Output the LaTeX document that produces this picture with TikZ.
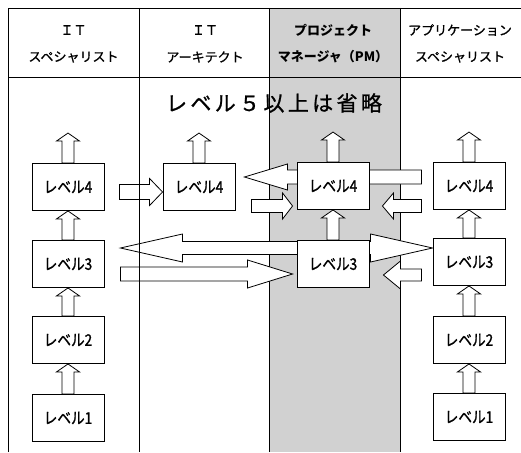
\documentclass[tikz,border=0pt]{standalone}
\usepackage{fontspec}
\setmainfont{Noto Sans CJK JP}
\newfontfamily\boxfont[FakeStretch=0.85,FakeBold=1.2]{Noto Sans CJK JP}
\newfontfamily\hdfont[FakeBold=1]{Noto Sans CJK JP}
\usepackage{tikz}
\usetikzlibrary{calc}
\usetikzlibrary{backgrounds}

% block arrow: tail, tip, half shaft, half head, head length
\newcommand{\blockarrow}[5]{%
	\coordinate (ba-a) at #1;
	\coordinate (ba-b) at #2;
	\coordinate (ba-h) at ($(ba-b)!#5!(ba-a)$);
	\draw[barrow] ($(ba-a)!#3!90:(ba-b)$) -- ($(ba-h)!#3!-90:(ba-a)$) -- ($(ba-h)!#4!-90:(ba-a)$) -- (ba-b)
	-- ($(ba-h)!#4!90:(ba-a)$) -- ($(ba-h)!#3!90:(ba-a)$) -- ($(ba-a)!#3!-90:(ba-b)$) -- cycle;
}

\begin{document}
\begin{tikzpicture}[x=1pt,y=-1pt,
	lvbox/.style={draw,fill=white,line width=0.9pt,minimum width=72pt,minimum height=47pt,font=\boxfont\fontsize{16}{16}\selectfont},
	barrow/.style={draw,fill=white,line width=0.8pt,line join=miter},
	grid/.style={line width=0.9pt},
	hd/.style={font=\hdfont\fontsize{13}{13}\selectfont}]
	\useasboundingbox (0,0) rectangle (521,452);
	% shaded PM column
	\begin{scope}[on background layer]
		\fill[black!18] (269,8) rectangle (400,452);
		\draw[grid] (269,8) -- (269,452);
		\draw[grid] (400,8) -- (400,452);
	\end{scope}
	\draw[grid] (8,452) -- (8,8) -- (521,8);
	\draw[grid] (8,77) -- (521,77);
	\draw[grid] (139,8) -- (139,452);
	% headers
	\node[hd] (hd1a) at (73.5,30) {ＩＴ};
	\node[hd] (hd1b) at (73.5,57) {スペシャリスト};
	\node[hd] (hd2a) at (205,30) {ＩＴ};
	\node[hd] (hd2b) at (205,57) {アーキテクト};
	\node[hd,font=\bfseries\fontsize{13}{13}\selectfont] (hd3a) at (333,30) {プロジェクト};
	\node[hd,font=\bfseries\fontsize{13}{13}\selectfont] (hd3b) at (333,57) {マネージャ（PM）};
	\node[hd] (hd4a) at (460,30) {アプリケーション};
	\node[hd] (hd4b) at (460,57) {スペシャリスト};
	\node[font=\hdfont\addfontfeature{LetterSpace=16}\fontsize{21}{21}\selectfont] (omit) at (274,103) {レベル５以上は省略};
	% level boxes
	\node[lvbox] (c1l4) at (68,187) {レベル4};
	\node[lvbox] (c1l3) at (68,264) {レベル3};
	\node[lvbox] (c1l2) at (68,340) {レベル2};
	\node[lvbox] (c1l1) at (68,418) {レベル1};
	\node[lvbox] (c2l4) at (199,187) {レベル4};
	\node[lvbox] (pml4) at (333,186) {レベル4};
	\node[lvbox] (pml3) at (333,264) {レベル3};
	\node[lvbox] (c4l4) at (469,186) {レベル4};
	\node[lvbox] (c4l3) at (469,262) {レベル3};
	\node[lvbox] (c4l2) at (469,340) {レベル2};
	\node[lvbox] (c4l1) at (469,417) {レベル1};
	\coordinate (c1top) at ([yshift=30pt]c1l4.north);
	\coordinate (c2top) at ([yshift=30pt]c2l4.north);
	\coordinate (pmtop) at ([yshift=30pt]pml4.north);
	\coordinate (c4top) at ([yshift=30pt]c4l4.north);
	% arrows
	\begin{scope}[on background layer]
		\blockarrow{(c1l1.north)}{(c1l2.south)}{6pt}{11.5pt}{8pt}
		\blockarrow{(c1l2.north)}{(c1l3.south)}{6pt}{11.5pt}{8pt}
		\blockarrow{(c1l3.north)}{(c1l4.south)}{6pt}{11.5pt}{8pt}
		\blockarrow{(c1l4.north)}{(c1top)}{6pt}{11.5pt}{8pt}
		\blockarrow{(c2l4.north)}{(c2top)}{6pt}{11.5pt}{8pt}
		\blockarrow{(pml3.north)}{(pml4.south)}{6pt}{11.5pt}{8pt}
		\blockarrow{(pml4.north)}{(pmtop)}{6pt}{11.5pt}{8pt}
		\blockarrow{(c4l1.north)}{(c4l2.south)}{6pt}{11.5pt}{8pt}
		\blockarrow{(c4l2.north)}{(c4l3.south)}{6pt}{11.5pt}{8pt}
		\blockarrow{(c4l3.north)}{(c4l4.south)}{6pt}{11.5pt}{8pt}
		\blockarrow{(c4l4.north)}{(c4top)}{6pt}{11.5pt}{8pt}
		\blockarrow{([xshift=15pt,yshift=-5pt]c1l4.east)}{([yshift=-5pt]c2l4.west)}{7.5pt}{13.5pt}{13pt}
		\blockarrow{([xshift=-11pt,yshift=9pt]c4l4.west)}{([xshift=9pt,yshift=10pt]c2l4.east)}{7pt}{13pt}{43pt}
		\blockarrow{([xshift=16pt,yshift=-19pt]c2l4.east)}{([xshift=-4pt,yshift=-20pt]pml4.west)}{6.5pt}{13pt}{10pt}
		\blockarrow{([xshift=-11pt,yshift=-20pt]c4l4.west)}{([xshift=13pt,yshift=-20pt]pml4.east)}{6.5pt}{13pt}{11pt}
		\blockarrow{([yshift=16pt]pml3.center)}{([xshift=16pt,yshift=16pt]c1l3.east)}{6.5pt}{14pt}{62pt}
		\blockarrow{([yshift=16pt]pml3.center)}{([yshift=14pt]c4l3.west)}{6.5pt}{14pt}{62pt}
		\blockarrow{([xshift=16pt,yshift=-10pt]c1l3.east)}{([xshift=-4pt,yshift=-10pt]pml3.west)}{7pt}{14pt}{45pt}
		\blockarrow{([xshift=-11pt,yshift=-13pt]c4l3.west)}{([xshift=14pt,yshift=-11pt]pml3.east)}{6pt}{14pt}{17pt}
	\end{scope}
\end{tikzpicture}
\end{document}
